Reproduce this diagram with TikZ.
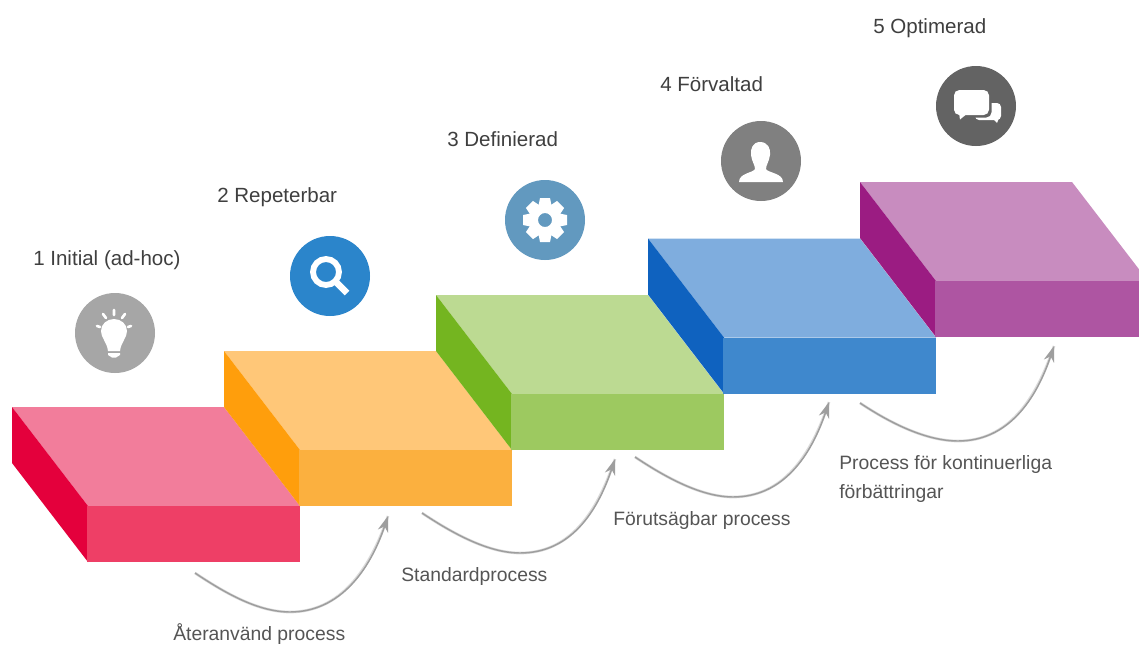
\documentclass[tikz,border=0pt]{standalone}
\usepackage{fontspec}
\setmainfont{Liberation Sans}
\usetikzlibrary{arrows.meta}
\definecolor{topA}{HTML}{F27D9B}\definecolor{sideA}{HTML}{E4003C}\definecolor{frontA}{HTML}{EE3F66}
\definecolor{topB}{HTML}{FFC778}\definecolor{sideB}{HTML}{FF9E0C}\definecolor{frontB}{HTML}{FBB03F}
\definecolor{topC}{HTML}{BCDA92}\definecolor{sideC}{HTML}{74B520}\definecolor{frontC}{HTML}{9DC960}
\definecolor{topD}{HTML}{7FADDE}\definecolor{sideD}{HTML}{0F62BF}\definecolor{frontD}{HTML}{3F88CD}
\definecolor{topE}{HTML}{C88CBF}\definecolor{sideE}{HTML}{9B1C82}\definecolor{frontE}{HTML}{AE55A2}
\definecolor{titlecol}{HTML}{3F3F3F}\definecolor{captioncol}{HTML}{555555}
\tikzset{
  x=0.75pt,y=-0.75pt,
  badge/.style={circle,inner sep=0pt,minimum size=60pt},
  title/.style={anchor=west,inner sep=0pt,text=titlecol,font=\fontsize{15.4pt}{18pt}\selectfont},
  caption/.style={anchor=west,inner sep=0pt,text=captioncol,font=\fontsize{14.5pt}{18pt}\selectfont},
  flow/.style={draw=black!38,line width=1.1pt,-{Stealth[length=12pt,width=8pt]}},
  flowshadow/.style={draw=black!14,line width=2pt},
  glyph/.style={fill=white,draw=none},
}
\newcommand{\stepblock}[5]{%
  \fill[#3] (#1,#2) -- ++(212,0) -- ++(76,99) -- ++(-212,0) -- cycle;
  \fill[#4] (#1,#2) -- ++(76,99) -- ++(0,56) -- ++(-76,-99) -- cycle;
  \fill[#5] (#1+75,#2+99) rectangle ++(213,56);
}
\begin{document}
\begin{tikzpicture}
\fill[white] (0,0) rectangle (1139,644);
\clip (0,0) rectangle (1139,644);
\useasboundingbox (0,0) rectangle (1139,644);
% steps
\stepblock{12}{407}{topA}{sideA}{frontA}
\stepblock{224}{351}{topB}{sideB}{frontB}
\stepblock{436}{295}{topC}{sideC}{frontC}
\stepblock{648}{238.5}{topD}{sideD}{frontD}
\stepblock{860}{182}{topE}{sideE}{frontE}
% badges
\node[badge,fill=black!35] (b1) at (115,333) {};
\node[badge,fill={rgb,255:red,43;green,133;blue,203}] (b2) at (330,276) {};
\node[badge,fill={rgb,255:red,98;green,153;blue,191}] (b3) at (545,220) {};
\node[badge,fill=black!50] (b4) at (761,161) {};
\node[badge,fill=black!61] (b5) at (976,106) {};
% bulb
\fill[glyph] (114,319) .. controls (121,319) and (127,324) .. (127,331) .. controls (127,338) and (121,342) .. (120,351) -- (108,351) .. controls (107,342) and (101,338) .. (101,331) .. controls (101,324) and (107,319) .. (114,319) -- cycle;
\fill[glyph] (108,353) -- (120,353) -- (120,355) -- (116,357.5) -- (112,357.5) -- (108,355) -- cycle;
\draw[white,line width=2pt,line cap=round] (114,310) -- (114,315) (103,314) -- (106,318) (125,314) -- (122,318) (97,326) -- (100,327) (131,326) -- (128,327);
% magnifier
\draw[white,line width=4.4pt] (326,272) circle[radius=13];
\draw[white,line width=5pt] (335,281) -- (347,293);
% gear
\begin{scope}[shift={(545,220)}]
\foreach \a in {0,45,...,315}
  \fill[white,rotate=\a] (-5,-22) -- (5,-22) -- (7,-12) -- (-7,-12) -- cycle;
\fill[white,even odd rule] (0,0) circle[radius=16.5] (0,0) circle[radius=7];
\end{scope}
% person
\fill[glyph] (760,142) .. controls (768,142) and (771,149) .. (770,155) .. controls (769,162) and (766,165) .. (766,169) .. controls (768,173) and (783,173) .. (783,182) -- (739,182) .. controls (739,173) and (753,173) .. (755,169) .. controls (755,165) and (752,162) .. (751,155) .. controls (750,149) and (753,142) .. (760,142) -- cycle;
% chat
\fill[glyph,rounded corners=3pt] (975,103) rectangle (1001,120);
\fill[glyph] (992,118) -- (999,118) -- (997,123) -- cycle;
\fill[black!61,rounded corners=4pt] (951.5,87.5) rectangle (991.5,117.5);
\fill[glyph,rounded corners=4pt] (954,90) rectangle (989,115);
\fill[glyph] (959,113) -- (968,113) -- (960,119.5) -- cycle;
% titles
\node[title] (t1) at (33,260) {1 Initial (ad-hoc)};
\node[title] (t2) at (217,197) {2 Repeterbar};
\node[title] (t3) at (447,139) {3 Definierad};
\node[title] (t4) at (660,84) {4 Förvaltad};
\node[title] (t5) at (873,28) {5 Optimerad};
% captions
\node[caption] (c1) at (173,634) {Återanvänd process};
\node[caption] (c2) at (401,576) {Standardprocess};
\node[caption] (c3) at (613,520) {Förutsägbar process};
\node[caption,align=left,font=\fontsize{14.5pt}{22pt}\selectfont] (c4) at (839,479) {Process för kontinuerliga\\förbättringar};
% flow arrows
\coordinate (s1) at (195,573); \coordinate (m1) at (290,612); \coordinate (e1) at (388,516);
\coordinate (s2) at (422,513); \coordinate (m2) at (520,553); \coordinate (e2) at (615,459);
\coordinate (s3) at (635,457); \coordinate (m3) at (733,497); \coordinate (e3) at (829,402);
\coordinate (s4) at (860,403); \coordinate (m4) at (958,441); \coordinate (e4) at (1054,346);
\foreach \i in {1,2,3,4} {
  \draw[flowshadow,shift={(0,2.5)}] (s\i) .. controls +(30,20) and +(-32,0) .. (m\i) .. controls +(50,0) and +(-18,54) .. (e\i);
  \draw[flow] (s\i) .. controls +(30,20) and +(-32,0) .. (m\i) .. controls +(50,0) and +(-18,54) .. (e\i);
}
\end{tikzpicture}
\end{document}
